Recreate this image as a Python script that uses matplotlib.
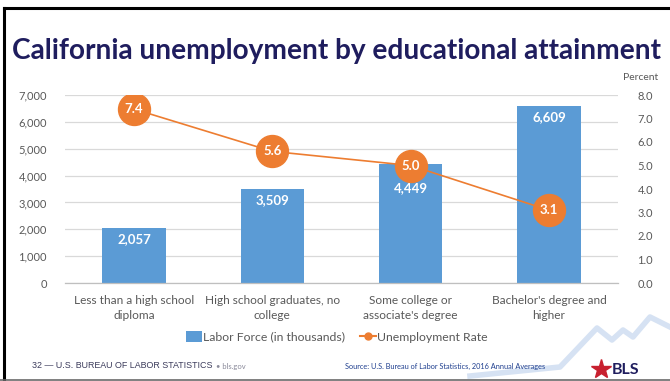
import matplotlib
matplotlib.use("Agg")
import matplotlib.pyplot as plt
from matplotlib.lines import Line2D
from matplotlib.patches import Patch

plt.rcParams['font.family'] = ['Lato', 'DejaVu Sans']

categories = ["Less than a high school\ndiploma", "High school graduates, no\ncollege",
              "Some college or\nassociate's degree", "Bachelor's degree and\nhigher"]
labor_force = [2057, 3509, 4449, 6609]
unemp_rate = [7.4, 5.6, 5.0, 3.1]
left_ticks = [0, 1000, 2000, 3000, 4000, 5000, 6000, 7000]
right_ticks = [0, 1, 2, 3, 4, 5, 6, 7, 8]

W, H = 670, 381
fig = plt.figure(figsize=(6.7, 3.81), dpi=100)
fig.patch.set_facecolor('white')

BLUE = '#5B9BD5'
ORANGE = '#ED7D31'
GRAY = '#595959'

ax = fig.add_axes([65 / W, 1 - 283 / H, (618 - 65) / W, (283 - 95) / H])
x = list(range(len(categories)))
bars = ax.bar(x, labor_force, width=0.46, color=BLUE, zorder=2)
ax.set_xlim(-0.5, 3.5)
ax.set_ylim(0, 7000)
ax.set_yticks(left_ticks)
ax.set_yticklabels([f"{v:,}" for v in left_ticks], fontsize=8, color=GRAY)
ax.set_xticks(x)
ax.set_xticklabels(categories, fontsize=8.6, color=GRAY, linespacing=1.35)
ax.tick_params(axis='both', length=0)
ax.tick_params(axis='y', pad=13)
ax.tick_params(axis='x', pad=9)
ax.grid(axis='y', color='#D9D9D9', linewidth=0.9, zorder=0)
ax.set_axisbelow(True)
for s in ['top', 'right', 'left']:
    ax.spines[s].set_visible(False)
ax.spines['bottom'].set_color('#BFBFBF')
ax.spines['bottom'].set_linewidth(0.9)

label_offsets = [-8, -8, -17.5, -8]  # points below bar top (third moved to avoid marker)
for b, v, off in zip(bars, labor_force, label_offsets):
    ax.annotate(f"{v:,}", (b.get_x() + b.get_width() / 2, v), xytext=(0, off),
                textcoords='offset points', ha='center', va='center',
                color='white', fontsize=9.5, fontweight='bold', zorder=3)

ax2 = ax.twinx()
ax2.set_ylim(0, 8)
ax2.set_yticks(right_ticks)
ax2.set_yticklabels([f"{v:.1f}" for v in right_ticks], fontsize=8, color=GRAY)
ax2.tick_params(axis='y', length=0, pad=14)
for s in ax2.spines.values():
    s.set_visible(False)
ax2.plot(x, unemp_rate, color=ORANGE, linewidth=1.2, marker='o', markersize=23,
         markerfacecolor=ORANGE, markeredgecolor=ORANGE, zorder=4)
for xi, v in zip(x, unemp_rate):
    ax2.text(xi, v, f"{v:.1f}", ha='center', va='center', color='white',
             fontsize=9.5, fontweight='bold', zorder=5)

fig.text(641 / W, 1 - 77 / H, "Percent", ha='center', va='center', fontsize=7.5, color=GRAY)

# Title
fig.text(337 / W, 1 - 51 / H, "California unemployment by educational attainment",
         ha='center', va='center', fontsize=20.2, fontweight='bold', color='#1F1D5E')

# Legend
handles = [Patch(facecolor=BLUE, edgecolor='none', label='Labor Force (in thousands)'),
           Line2D([0], [0], color=ORANGE, marker='o', markersize=5, linewidth=1.5,
                  label='Unemployment Rate')]
fig.legend(handles=handles, loc='center', bbox_to_anchor=(337 / W, 1 - 337 / H), ncol=2,
           frameon=False, fontsize=8.8, labelcolor=GRAY, handlelength=1.3,
           handleheight=0.9, handletextpad=0.1, columnspacing=1.2)

# Decorative light-blue line (BLS slide background)
dx = [470, 560, 597, 612, 623, 633, 650, 670]
dy = [376, 367, 328, 340, 330, 337, 317, 327]
fig.add_artist(Line2D([v / W for v in dx], [1 - v / H for v in dy],
                      color='#D6E2F3', linewidth=4, zorder=0))

# Footer
fig.text(32 / W, 1 - 366 / H, "32 — U.S. BUREAU OF LABOR STATISTICS", ha='left', va='center',
         fontsize=6.4, color='#3B3B5B', family=['Liberation Sans Narrow', 'Liberation Sans', 'DejaVu Sans'])
fig.text(216 / W, 1 - 366 / H, "• bls.gov", ha='left', va='center', fontsize=5.5, color='#8A8A9A')
fig.text(345 / W, 1 - 366 / H, "Source: U.S. Bureau of Labor Statistics, 2016 Annual Averages",
         ha='left', va='center', fontsize=5.3, color='#1F3F8F')
fig.text(612 / W, 1 - 370 / H, "BLS", ha='left', va='center', fontsize=11.5,
         fontweight='bold', color='#1F1D5E')
fig.add_artist(Line2D([601 / W], [1 - 369 / H], marker='*', markersize=15,
                      color='#C8202F', linestyle='none'))

# Slide borders
fig.add_artist(Line2D([4 / W, 4 / W], [0, 1 - 8 / H], color='black', linewidth=2.2))
fig.add_artist(Line2D([4 / W, 1], [1 - 8 / H, 1 - 8 / H], color='black', linewidth=2.2))
fig.add_artist(Line2D([0, 1], [1 - 379.5 / H, 1 - 379.5 / H], color='#6A6A6A', linewidth=1.2))

fig.savefig("out.png", dpi=100, facecolor='white')
